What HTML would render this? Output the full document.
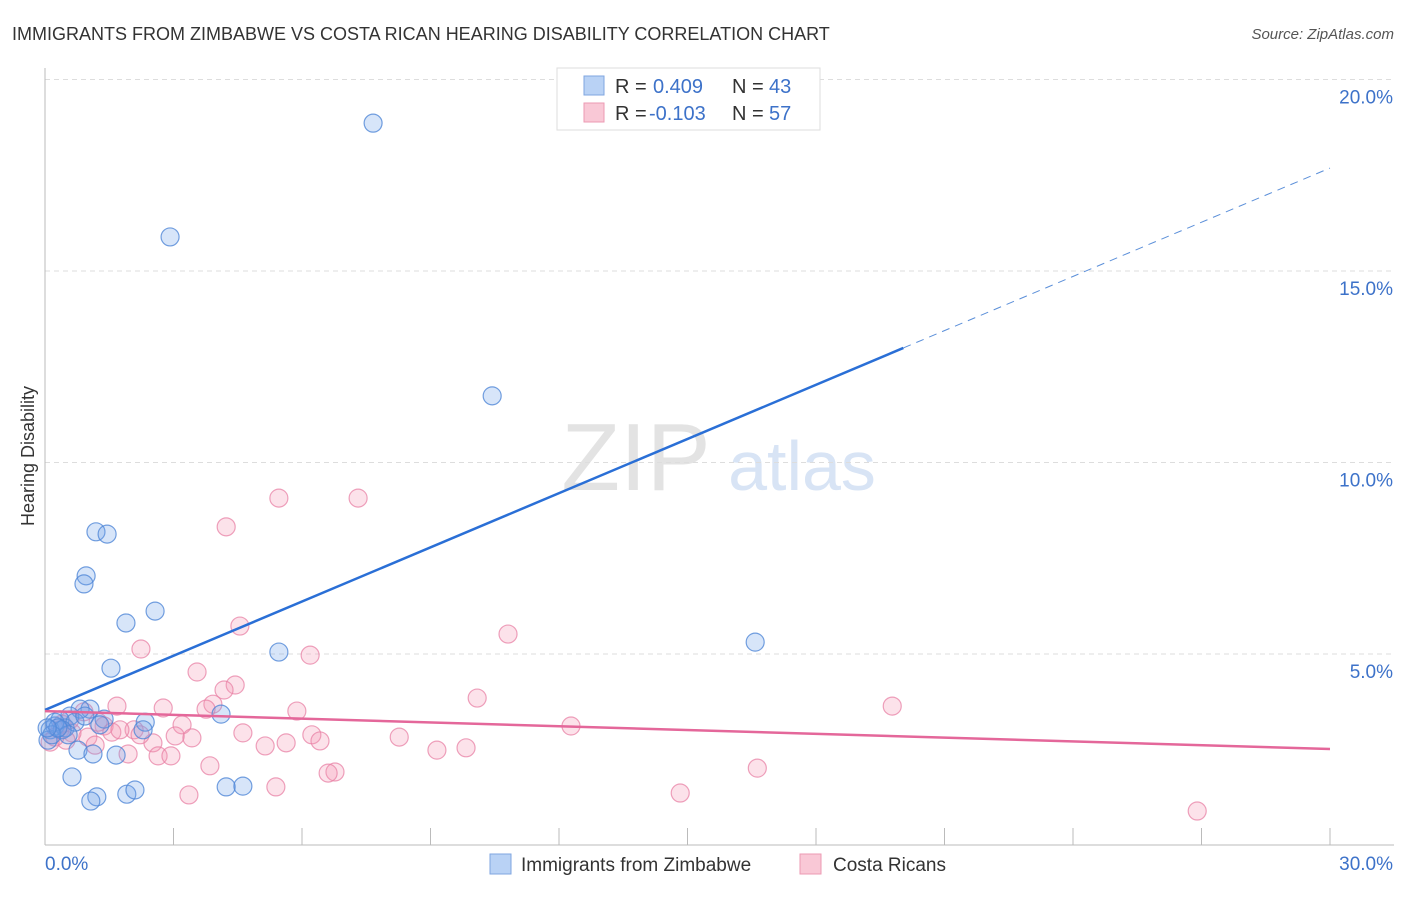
<!DOCTYPE html>
<html><head><meta charset="utf-8">
<style>
body{margin:0;background:#fff;font-family:"Liberation Sans",sans-serif;}
svg text{font-family:"Liberation Sans",sans-serif;}
</style></head>
<body>
<svg id="chart" width="1406" height="892" xmlns="http://www.w3.org/2000/svg">
<text x="12" y="40" font-size="18" fill="#333">IMMIGRANTS FROM ZIMBABWE VS COSTA RICAN HEARING DISABILITY CORRELATION CHART</text>
<text x="1394" y="39" font-size="15" fill="#555" text-anchor="end" font-style="italic">Source: ZipAtlas.com</text>
<g>
<text x="636" y="490" font-size="96" fill="#e3e3e3" text-anchor="middle" font-family="Liberation Serif">ZIP</text>
<text x="802" y="490" font-size="70" fill="#d8e4f5" text-anchor="middle">atlas</text>
</g>
<g id="grid"></g>
<g id="axes"></g>
<g id="marks"></g>
<text transform="translate(34,456) rotate(-90)" font-size="18" fill="#333" text-anchor="middle">Hearing Disability</text>
<g>
<rect x="557" y="68" width="263" height="62" fill="#fff" stroke="#ddd"/>
<rect x="584" y="76" width="20" height="19" fill="#b9d2f5" stroke="#7fa6e0"/>
<rect x="584" y="103" width="20" height="19" fill="#f9c8d6" stroke="#ec9ab3"/>
<text x="615" y="93" font-size="20" fill="#333">R = </text><text x="653" y="93" font-size="20" fill="#3d72c9">0.409</text>
<text x="732" y="93" font-size="20" fill="#333">N = </text><text x="769" y="93" font-size="20" fill="#3d72c9">43</text>
<text x="615" y="120" font-size="20" fill="#333">R = </text><text x="649" y="120" font-size="20" fill="#3d72c9">-0.103</text>
<text x="732" y="120" font-size="20" fill="#333">N = </text><text x="769" y="120" font-size="20" fill="#3d72c9">57</text>
</g>
<g>
<rect x="490" y="854" width="21" height="20" fill="#b9d2f5" stroke="#7fa6e0"/>
<text x="521" y="871" font-size="19" fill="#333">Immigrants from Zimbabwe</text>
<rect x="800" y="854" width="21" height="20" fill="#f9c8d6" stroke="#ec9ab3"/>
<text x="833" y="871" font-size="19" fill="#333">Costa Ricans</text>
</g>
</svg>
<script>
const xTicks=[0,3,6,9,12,15,18,21,24,27,30];
const yTicks=[5,10,15,20];
const yTickLabels=["5.0%","10.0%","15.0%","20.0%"];
const blueX=[7.66,2.92,10.44,16.58,5.46,1.19,1.45,0.96,0.91,2.57,1.89,1.54,4.11,2.34,1.05,0.82,1.38,0.58,0.35,0.23,0.12,0.07,0.47,0.70,0.77,1.12,1.66,0.63,1.21,1.07,1.91,2.10,4.23,4.62,2.29,0.23,0.40,0.93,1.28,0.54,0.16,0.30,0.05];
const blueY=[18.86,15.89,11.74,5.31,5.05,8.19,8.13,7.04,6.83,6.12,5.81,4.63,3.43,3.22,3.56,3.56,3.30,3.38,3.28,3.12,3.02,2.75,3.07,3.22,2.49,2.39,2.36,1.79,1.27,1.16,1.34,1.45,1.53,1.55,3.02,3.22,3.02,3.38,3.15,2.89,2.89,3.07,3.07];
const pinkX=[5.46,7.31,4.23,10.81,4.55,2.24,6.19,3.55,4.44,4.18,10.09,19.78,2.76,1.68,3.92,5.88,3.76,3.20,1.38,2.08,3.04,3.43,4.62,6.23,6.42,5.14,5.63,8.27,12.28,9.15,9.83,2.52,2.64,1.94,2.94,3.85,16.63,6.77,6.61,5.39,3.36,14.83,26.90,1.00,0.63,0.35,0.49,1.56,1.24,0.91,0.23,0.12,0.40,1.75,2.22,1.17,0.58];
const pinkY=[9.07,9.07,8.32,5.52,5.73,5.13,4.97,4.53,4.19,4.06,3.85,3.64,3.59,3.64,3.69,3.51,3.56,3.15,3.12,3.02,2.86,2.81,2.94,2.89,2.73,2.60,2.68,2.83,3.12,2.49,2.55,2.68,2.34,2.39,2.34,2.08,2.02,1.92,1.89,1.53,1.32,1.37,0.90,2.83,2.94,3.02,2.75,2.96,3.22,3.49,2.83,2.70,3.17,3.02,2.89,2.62,3.28];
const blueTrend=[3.54,0.4716]; // intercept, slope
const blueSolidEnd=20.04;
const pinkTrend=[3.51,-0.033];
const NS="http://www.w3.org/2000/svg";
const X=v=>45+v*(1285/30), Y=v=>845.5-v*38.3;
function mk(t,a,p){const e=document.createElementNS(NS,t);for(const k in a)e.setAttribute(k,a[k]);p.appendChild(e);return e;}
const grid=document.getElementById('grid'),axes=document.getElementById('axes'),marks=document.getElementById('marks');
yTicks.forEach((t,i)=>{
 const l=mk('line',{x1:45,x2:1394,y1:Y(t),y2:Y(t),stroke:'#ddd','stroke-dasharray':'5,4'},grid);
 
 
 const tx=mk('text',{x:1393,y:Y(t)+24,'font-size':19,fill:'#3d72c9','text-anchor':'end'},axes);
 tx.textContent=yTickLabels[i];
 
 
});
let a=mk('line',{x1:45,x2:45,y1:68,y2:845,stroke:'#bbb'},axes);


a=mk('line',{x1:45,x2:1394,y1:845,y2:845,stroke:'#bbb'},axes);


xTicks.forEach(t=>{if(t===0)return;const l=mk('line',{x1:X(t),x2:X(t),y1:828,y2:845,stroke:'#bbb'},axes);
 
 });
let tl=mk('text',{x:45,y:870,'font-size':19,fill:'#3d72c9'},axes);tl.textContent='0.0%';


tl=mk('text',{x:1393,y:870,'font-size':19,fill:'#3d72c9','text-anchor':'end'},axes);tl.textContent='30.0%';


pinkX.forEach((v,i)=>{const c=mk('circle',{cx:X(v),cy:Y(pinkY[i]),r:9,fill:'rgba(244,150,180,0.28)',stroke:'rgba(232,130,165,0.75)','stroke-width':1.2},marks);
 
 });
blueX.forEach((v,i)=>{const c=mk('circle',{cx:X(v),cy:Y(blueY[i]),r:9,fill:'rgba(110,160,235,0.28)',stroke:'rgba(80,135,215,0.8)','stroke-width':1.2},marks);
 
 });
const bf=x=>blueTrend[0]+blueTrend[1]*x, pf=x=>pinkTrend[0]+pinkTrend[1]*x;
let l=mk('line',{x1:X(0),y1:Y(bf(0)),x2:X(blueSolidEnd),y2:Y(bf(blueSolidEnd)),stroke:'#2a6fd6','stroke-width':2.5},marks);


l=mk('line',{x1:X(blueSolidEnd),y1:Y(bf(blueSolidEnd)),x2:X(30),y2:Y(bf(30)),stroke:'#5b8fd9','stroke-width':1,'stroke-dasharray':'8,6'},marks);


l=mk('line',{x1:X(0),y1:Y(pf(0)),x2:X(30),y2:Y(pf(30)),stroke:'#e4679a','stroke-width':2.5},marks);


</script>
</body></html>
